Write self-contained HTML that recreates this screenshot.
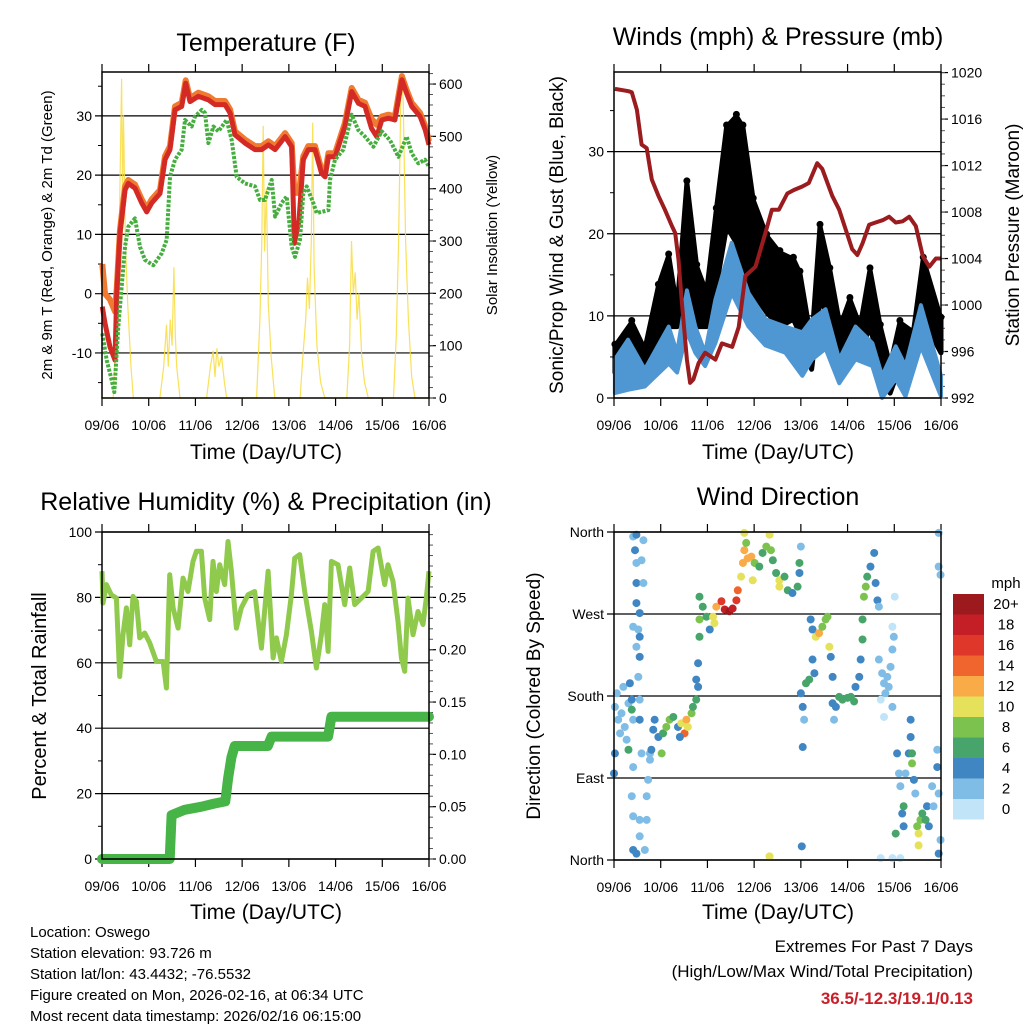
<!DOCTYPE html>
<html><head><meta charset="utf-8"><style>
html,body{margin:0;padding:0;background:#fff;}
svg{display:block;font-family:"Liberation Sans",sans-serif;}
</style></head><body>
<svg id="chart" width="1024" height="1024" viewBox="0 0 1024 1024" xmlns="http://www.w3.org/2000/svg">
<rect width="1024" height="1024" fill="#fff"/>
<text x="266" y="51" font-size="25" text-anchor="middle">Temperature (F)</text>
<text x="778" y="45" font-size="25" text-anchor="middle">Winds (mph) &amp; Pressure (mb)</text>
<text x="266" y="510" font-size="25" text-anchor="middle">Relative Humidity (%) &amp; Precipitation (in)</text>
<text x="778" y="505" font-size="25" text-anchor="middle">Wind Direction</text>
<text x="266" y="459" font-size="21" text-anchor="middle">Time (Day/UTC)</text>
<text x="778" y="459" font-size="21" text-anchor="middle">Time (Day/UTC)</text>
<text x="266" y="919" font-size="21" text-anchor="middle">Time (Day/UTC)</text>
<text x="778" y="919" font-size="21" text-anchor="middle">Time (Day/UTC)</text>
<text transform="translate(52,235) rotate(-90)" font-size="15" text-anchor="middle">2m &amp; 9m T (Red, Orange) &amp; 2m Td (Green)</text>
<text transform="translate(497,235) rotate(-90)" font-size="15" text-anchor="middle">Solar Insolation (Yellow)</text>
<text transform="translate(563,235) rotate(-90)" font-size="19" text-anchor="middle">Sonic/Prop Wind &amp; Gust (Blue, Black)</text>
<text transform="translate(1019,235) rotate(-90)" font-size="19" text-anchor="middle">Station Pressure (Maroon)</text>
<text transform="translate(46,696) rotate(-90)" font-size="20" text-anchor="middle">Percent &amp; Total Rainfall</text>
<text transform="translate(540,696) rotate(-90)" font-size="19" text-anchor="middle">Direction (Colored By Speed)</text>
<g font-size="15">
<text x="30" y="937">Location: Oswego</text>
<text x="30" y="958">Station elevation: 93.726 m</text>
<text x="30" y="979">Station lat/lon: 43.4432; -76.5532</text>
<text x="30" y="1000">Figure created on Mon, 2026-02-16, at 06:34 UTC</text>
<text x="30" y="1021">Most recent data timestamp: 2026/02/16 06:15:00</text>
</g>
<text x="973" y="952" font-size="17" text-anchor="end">Extremes For Past 7 Days</text>
<text x="973" y="977" font-size="17" text-anchor="end">(High/Low/Max Wind/Total Precipitation)</text>
<text x="973" y="1004" font-size="17" font-weight="bold" fill="#c8202a" text-anchor="end">36.5/-12.3/19.1/0.13</text>
<text x="1006" y="588" font-size="15" text-anchor="middle">mph</text>
</svg>
<script>
// ---------- data ----------
const dayLabels = ['09/06','10/06','11/06','12/06','13/06','14/06','15/06','16/06'];
const tempTicks = [-10,0,10,20,30];
const solarTicks = [0,100,200,300,400,500,600];
const windTicks = [0,10,20,30];
const presTicks = [992,996,1000,1004,1008,1012,1016,1020];
const rhTicks = [0,20,40,60,80,100];
const precipTicks = [0,0.05,0.10,0.15,0.20,0.25];
const dirTicks = [0,90,180,270,360];
const dirLabels = ['North','East','South','West','North'];

const redT = [0.007,0.064,0.171,0.278,0.314,0.385,0.492,0.563,0.706,0.849,0.956,1.063,1.241,1.349,1.456,1.563,1.706,1.791,1.884,2.063,2.277,2.42,2.634,2.741,2.848,3.062,3.276,3.419,3.562,3.705,3.919,4.06,4.118,4.218,4.31,4.417,4.56,4.70,4.776,4.846,4.99,5.20,5.345,5.49,5.63,5.77,5.88,5.99,6.13,6.27,6.42,6.52,6.63,6.81,6.92,7.0];
const redV = [-2.2,-5,-9,-11.2,0,10.2,17.5,18.6,17.8,15.3,13.8,15.3,16.9,22.6,24.3,31,31.6,35.5,32.4,33.3,32.7,31.9,31.9,30.5,26.8,25.4,24.3,24.3,25.1,24.3,26.5,24.8,8.5,12.4,22.6,24.3,24.3,20.3,19.7,23.1,23.1,28.2,34.1,32.1,31.6,27.9,26.5,29.3,29.6,29.3,36.1,33.8,31.6,29.9,27.6,25.1];
const orangeV = [5,0,-1,-3,0.8,10.8,18.1,19.2,18.4,15.9,14.4,15.9,17.5,23.2,24.9,31.6,32.2,36,33,33.9,33.3,32.5,32.5,31.1,27.4,26,24.9,24.9,25.7,24.9,27.1,25.4,17,17,23.2,24.9,24.9,20.9,20.3,23.7,23.7,28.8,34.7,32.7,32.2,29.5,28.5,29.9,30.2,29.9,36.7,34.4,32.2,30.5,28.2,25.7];
const dewT = [0.007,0.10,0.207,0.264,0.35,0.492,0.563,0.706,0.813,0.92,1.099,1.277,1.384,1.456,1.563,1.706,1.777,1.92,1.991,2.134,2.205,2.277,2.384,2.491,2.669,2.776,2.883,3.062,3.276,3.383,3.49,3.633,3.705,3.846,3.953,4.06,4.132,4.239,4.31,4.381,4.524,4.596,4.846,4.881,4.988,5.166,5.345,5.487,5.63,5.809,5.987,6.166,6.344,6.522,6.63,6.772,6.915,7.0];
const dewV = [-6.7,-11.2,-14.6,-16.6,-5.6,7.9,11.3,12.7,7.9,5.7,4.8,6.8,9.1,19.7,22.6,24.3,29.3,28.2,29.9,31,30.5,25.4,28.2,27.4,29.3,25.9,19.7,18.6,18.1,15.8,15.8,19.2,13,15.3,16.4,7.9,6.2,9.1,16.9,18.1,15.3,13.6,14.1,19.2,22.6,24.3,30.2,27.6,26.5,24.8,27.4,25.9,23.1,26.5,23.7,22,22.6,21.4];
const solarT = [0,0.24,0.30,0.36,0.40,0.42,0.44,0.46,0.50,0.55,0.62,0.67,1.24,1.32,1.38,1.42,1.46,1.50,1.54,1.57,1.60,1.67,2.24,2.32,2.38,2.42,2.46,2.50,2.56,2.62,2.67,3.31,3.38,3.42,3.45,3.48,3.52,3.56,3.62,3.70,4.24,4.30,4.36,4.40,4.44,4.48,4.51,4.54,4.60,4.68,4.77,5.24,5.30,5.34,5.38,5.42,5.46,5.50,5.56,5.62,5.70,6.24,6.30,6.35,6.40,6.42,6.45,6.50,6.56,6.63,6.70,7.0];
const solarV = [0,0,120,260,500,610,380,540,300,180,60,0,0,60,140,60,150,100,250,120,60,0,0,60,90,40,95,60,80,30,0,0,150,300,520,280,400,180,80,0,0,80,150,230,170,300,526,250,100,30,0,0,100,300,200,240,150,200,80,30,0,0,120,300,600,620,560,300,150,40,0,0];

const presT = [0.02,0.31,0.38,0.49,0.59,0.70,0.81,0.95,1.09,1.24,1.31,1.38,1.45,1.56,1.63,1.70,1.81,1.95,2.17,2.31,2.53,2.67,2.81,3.03,3.24,3.38,3.53,3.71,3.85,4.03,4.17,4.35,4.46,4.67,4.82,5.10,5.21,5.32,5.46,5.60,5.75,5.89,6.03,6.18,6.32,6.46,6.61,6.75,6.89,7.0];
const presV = [1018.6,1018.4,1018.3,1016.8,1013.8,1013.5,1010.8,1009.4,1008.2,1006.8,1006.2,1003.9,1000.4,995.3,993.3,993.6,995,995.9,995.3,996.7,996.4,998.1,1002.5,1003.3,1006.2,1008.2,1008.2,1009.6,1009.9,1010.2,1010.5,1012.2,1011.7,1009.4,1008.2,1004.8,1004.3,1005.3,1006.9,1007.1,1007.3,1007.6,1007.1,1007.2,1007.6,1006.8,1004.2,1003.3,1004.0,1004.0];
const gustT = [0.02,0.38,0.66,0.95,1.17,1.35,1.56,1.77,1.98,2.19,2.41,2.62,2.76,2.98,3.27,3.55,3.84,3.98,4.23,4.41,4.62,4.84,5.05,5.27,5.48,5.70,5.91,6.12,6.41,6.62,7.0];
const gustHi = [6.3,9.2,5.9,13.6,17.3,10.8,26.2,16,12.8,22.9,33,34.3,33,24.1,19.7,17.7,16.9,15.2,6.7,20.9,15.6,8.7,12,8.7,15.6,8.7,3.9,9.2,8,16.9,9.6];
const gustLo = [3.1,4.7,3.9,6.7,8.7,8.7,12.8,8.7,8.7,13.6,20.9,18.9,14.8,12.8,10.4,8.7,9.6,7.8,3.5,12,9.6,4.7,6,5.5,8.7,3.9,0.6,3.9,3.9,9.6,5.5];
const sustT = [0.02,0.30,0.66,1.17,1.35,1.56,1.74,1.95,2.17,2.52,2.88,3.24,3.67,4.03,4.24,4.53,4.82,5.17,5.53,5.74,6.03,6.24,6.57,7.0];
const sustHi = [4.7,7.1,3.5,8.7,5.5,13.1,8.7,5.5,12,18.9,12.8,9.6,8.7,8,9.6,10.8,4.7,8.7,6.7,2.7,6.3,3.9,11.3,2.7];
const sustLo = [0.6,1,1.4,4.2,3.1,8,5.5,3.9,6.7,12.8,8.7,6.4,5.5,2.7,4.7,6,1.8,4.7,3.9,0,2.3,0.2,6.3,0.2];

const rhT = [0,0.022,0.094,0.2,0.308,0.379,0.45,0.522,0.593,0.664,0.736,0.807,0.914,1.021,1.164,1.307,1.378,1.45,1.521,1.628,1.735,1.842,1.949,2.02,2.127,2.198,2.306,2.377,2.448,2.52,2.627,2.698,2.77,2.877,2.983,3.126,3.269,3.412,3.555,3.662,3.733,3.84,3.947,4.054,4.125,4.232,4.34,4.482,4.589,4.696,4.768,4.839,4.91,5.053,5.196,5.303,5.41,5.553,5.696,5.803,5.91,6.052,6.123,6.23,6.337,6.409,6.48,6.551,6.658,6.765,6.872,6.943,7.0];
const rhV = [88,78.3,83.9,80.8,79.8,55.8,68.6,76.8,65.5,80.3,78.8,67.6,69.1,66.1,60.4,60.4,52.3,86.9,76.8,70.6,85.9,81.8,91,94.1,94.1,79.8,73.2,91,81.8,90,83.9,97.1,88,70.6,76.8,80.8,81.8,64.5,88,61.5,67.6,60.4,68.6,80.8,92,93.1,81.8,69.6,58.4,68.6,77.8,63.5,91,90,77.8,89,77.8,79.8,81.8,94.1,95.1,83.9,90,84.9,72.7,61.5,57.4,79.8,68.6,75.7,71.7,79.8,88];
const precipT = [0,1.45,1.49,1.77,2.13,2.41,2.64,2.70,2.77,2.84,3.55,3.63,4.84,4.91,7.0];
const precipV = [0,0,0.042,0.047,0.05,0.053,0.055,0.077,0.097,0.108,0.108,0.117,0.117,0.136,0.136];

const dirT = [0.02,0.06,0.09,0.13,0.16,0.2,0.23,0.27,0.31,0.02,0,0.34,0.38,0.41,0.31,0.38,
0.41,0.48,0.45,0.63,0.48,0.59,0.48,0.63,0.48,0.55,0.41,0.52,0.55,0.48,0.55,0.52,0.55,0.55,0.41,0.59,0.38,0.41,0.41,0.48,0.55,0.7,0.7,0.66,0.73,0.77,0.55,
0.84,0.87,0.95,1.02,1.05,1.12,1.19,1.27,1.37,1.44,1.51,1.55,1.58,1.66,1.69,1.76,1.8,1.8,1.76,0.8,0.77,1.41,
1.83,1.83,1.9,1.98,2.05,2.12,2.19,2.3,2.37,2.47,2.54,2.62,2.65,1.83,2.15,
2.72,2.76,2.79,2.83,2.86,2.94,3.01,3.11,3.18,3.26,3.33,3.36,3.4,3.47,3.54,3.54,3.65,3.72,3.82,3.93,3.97,4.0,3.97,2.79,2.97,
4.0,4.04,4.07,4.04,4.11,4.18,4.21,4.25,4.32,4.39,4.46,4.53,4.57,4.61,4.64,4.68,4.68,4.71,4.25,4.29,4.02,
4.75,4.82,4.89,5.0,5.07,5.14,5.17,5.25,5.28,5.32,5.32,5.35,5.39,5.42,5.49,5.57,5.6,5.64,5.67,
5.67,5.74,5.78,5.81,5.85,5.88,5.92,5.96,5.99,5.71,5.78,5.96,6.01,5.96,
6.06,6.1,6.13,6.17,6.2,6.24,6.31,6.35,6.35,6.38,6.38,6.42,6.45,6.49,6.52,6.52,6.56,6.6,6.67,6.7,6.74,6.81,6.84,6.92,6.95,6.92,6.99,6.95,6.03,6.2,6.95,6.95,6.99,5.96,6.13,5.71,3.33];
const dirDeg = [168,183,154,139,161,190,146,132,172,117,95,194,176,154,121,165,
355,357,340,351,326,329,304,304,282,271,256,253,245,234,223,201,176,154,102,117,70,48,11,7,26,70,44,11,88,117,44,
143,154,135,117,139,146,154,157,146,150,139,154,146,161,168,176,190,216,198,121,110,135,
289,264,278,267,253,267,278,284,275,273,276,285,296,245,260,
311,326,340,348,331,333,326,322,337,344,357,340,329,315,307,300,311,296,293,300,326,344,315,359,307,
183,168,154,124,194,198,264,253,245,249,256,264,267,234,223,201,172,154,220,205,15,
168,179,176,178,179,174,190,201,220,242,264,289,300,311,322,337,304,285,278,
220,205,194,183,201,190,212,231,245,176,157,168,289,256,
117,95,81,51,37,95,117,154,135,117,106,88,73,37,29,16,44,51,44,59,37,81,59,102,73,121,22,7,29,59,359,322,313,2,2,2,4];
const dirSpd = [2,2,2,2,2,2,2,2,2,4,4,4,4,2,6,6,
2,4,4,2,2,2,4,2,4,4,2,2,4,2,4,2,2,4,2,2,2,2,4,4,2,2,2,2,2,2,2,
4,4,4,8,6,8,8,6,4,10,14,12,10,8,6,6,4,4,4,4,2,4,
6,8,6,6,4,10,12,16,18,20,18,16,14,6,10,
10,12,12,8,12,12,8,6,6,8,10,8,6,6,10,10,6,6,4,6,6,2,4,10,10,
4,4,2,4,6,6,4,4,10,12,8,8,8,10,4,4,4,2,4,4,4,
4,6,6,6,6,6,4,4,4,6,6,8,8,6,4,4,4,4,2,
2,2,2,2,2,2,2,2,2,0,0,2,0,0,
4,2,2,4,4,2,4,4,4,6,8,4,2,8,10,10,8,6,6,4,4,2,2,4,2,2,2,4,6,6,2,2,2,0,0,0,10];
const binLabels = ['20+','18','16','14','12','10','8','6','4','2','0'];
const binColors = ['#9c1a1e','#c41f26','#e0372b','#f0652d','#f8ab46','#e6e15a','#7cc24f','#47a56b','#3f86c3','#80bde6','#c2e4f8'];

// ---------- helpers ----------
const NS = 'http://www.w3.org/2000/svg';
const svg = document.getElementById('chart');
function mk(tag, attrs, parent){
  const e = document.createElementNS(NS, tag);
  for (const k in attrs) e.setAttribute(k, attrs[k]);
  (parent||svg).appendChild(e);
  return e;
}
function scale(d0,d1,r0,r1){ return v => r0 + (v-d0)/(d1-d0)*(r1-r0); }
function pathD(xs, ys, fx, fy){
  return xs.map((t,i)=>(i?'L':'M')+fx(t).toFixed(1)+','+fy(ys[i]).toFixed(1)).join('');
}

const panels = [
  {name:'temp', x0:102,x1:429,y0:72,y1:398},
  {name:'wind', x0:614,x1:941,y0:72,y1:398},
  {name:'rh',   x0:102,x1:429,y0:532,y1:859},
  {name:'dir',  x0:614,x1:941,y0:532,y1:860}
];

function drawAxes(p, leftTicks, leftLabels, leftMin, leftMax, rightTicks, rightLabels, rMin, rMax, leftMinor, rightMinor){
  const g = mk('g', {});
  
  
  const fx = scale(0,7,p.x0,p.x1);
  const fy = scale(leftMin,leftMax,p.y1,p.y0);
  leftTicks.forEach((v,i)=>{
    const y = fy(v);
    const gl = mk('line',{x1:p.x0-7,x2:p.x1,y1:y,y2:y,stroke:'#000','stroke-width':1.2},g);
    
    
    const tl = mk('text',{x:p.x0-10,y:y+5,'font-size':14,'text-anchor':'end'},g);
    tl.textContent = leftLabels[i];
    
    
  });
  leftMinor.forEach(v=>{
    const y = fy(v);
    mk('line',{x1:p.x0-4,x2:p.x0,y1:y,y2:y,stroke:'#000','stroke-width':1},g);
  });
  if (rightTicks){
    const fr = scale(rMin,rMax,p.y1,p.y0);
    rightTicks.forEach((v,i)=>{
      const y = fr(v);
      mk('line',{x1:p.x1,x2:p.x1+7,y1:y,y2:y,stroke:'#000','stroke-width':1.2},g);
      const tl = mk('text',{x:p.x1+10,y:y+5,'font-size':14,'text-anchor':'start'},g);
      tl.textContent = rightLabels[i];
      
      
    });
    rightMinor.forEach(v=>{
      const y = fr(v);
      mk('line',{x1:p.x1,x2:p.x1+4,y1:y,y2:y,stroke:'#555','stroke-width':1},g);
    });
  }
  dayLabels.forEach((lab,i)=>{
    const x = fx(i);
    mk('line',{x1:x,x2:x,y1:p.y0-8,y2:p.y0,stroke:'#000','stroke-width':1.2},g);
    mk('line',{x1:x,x2:x,y1:p.y1,y2:p.y1+8,stroke:'#000','stroke-width':1.2},g);
    const tl = mk('text',{x:x,y:p.y1+32,'font-size':14,'text-anchor':'middle'},g);
    tl.textContent = lab;
    
    
  });
  return {fx, fy};
}
function frame(p){
  const r = mk('rect',{x:p.x0,y:p.y0,width:p.x1-p.x0,height:p.y1-p.y0,fill:'none',stroke:'#000','stroke-width':1.5});
  
  
}
function range(a,b,s){ const o=[]; for(let v=a; v<=b+1e-9; v+=s) o.push(+v.toFixed(4)); return o; }

// ---------- panel 1: temperature ----------
{
  const p = panels[0];
  const ax = drawAxes(p, tempTicks, tempTicks.map(String), -17.6, 37.4,
    solarTicks, solarTicks.map(String), 0, 623,
    [-15,-5,5,15,25,35], range(0,620,20));
  const fs = scale(0,623,p.y1,p.y0);
  const sol = mk('path',{d:pathD(solarT,solarV,ax.fx,fs),fill:'none',stroke:'#f8dc3c','stroke-width':1.2,'stroke-opacity':0.85});
  
  
  const or = mk('path',{d:pathD(redT,orangeV,ax.fx,ax.fy),fill:'none',stroke:'#f07a30','stroke-width':6,'stroke-linejoin':'round'});
  
  
  const rd = mk('path',{d:pathD(redT,redV,ax.fx,ax.fy),fill:'none',stroke:'#d42a25','stroke-width':5,'stroke-linejoin':'round'});
  
  
  const dw = mk('path',{d:pathD(dewT,dewV,ax.fx,ax.fy),fill:'none',stroke:'#45ae3e','stroke-width':4,'stroke-dasharray':'3 1.5','stroke-linejoin':'round'});
  
  
  frame(p);
}
// ---------- panel 2: winds & pressure ----------
{
  const p = panels[1];
  const ax = drawAxes(p, windTicks, windTicks.map(String), 0, 39.7,
    presTicks, presTicks.map(String), 992, 1020.05,
    [5,15,25,35], range(992,1020,1));
  const band = (T,hi,lo) => pathD(T.concat(T.slice().reverse()), hi.concat(lo.slice().reverse()), ax.fx, ax.fy)+'Z';
  const gb = mk('path',{d:band(gustT,gustHi,gustLo),fill:'#000',stroke:'#000','stroke-width':5,'stroke-linejoin':'round'});
  
  
  gustT.forEach((t,i)=>{
    const d = mk('circle',{cx:ax.fx(t),cy:ax.fy(gustHi[i])-2,r:3.5,fill:'#000'});
    
    
  });
  const sb = mk('path',{d:band(sustT,sustHi,sustLo),fill:'#4f97d2',stroke:'#4f97d2','stroke-width':4,'stroke-linejoin':'round'});
  
  
  const fp = scale(992,1020.05,p.y1,p.y0);
  const pl = mk('path',{d:pathD(presT,presV,ax.fx,fp),fill:'none',stroke:'#9b1c1f','stroke-width':4,'stroke-linejoin':'round'});
  
  
  frame(p);
}
// ---------- panel 3: RH & precip ----------
{
  const p = panels[2];
  const ax = drawAxes(p, rhTicks, rhTicks.map(String), 0, 100,
    precipTicks, precipTicks.map(v=>v.toFixed(2)), 0, 0.3125,
    [10,30,50,70,90], range(0,0.31,0.01));
  const fp = scale(0,0.3125,p.y1,p.y0);
  const rl = mk('path',{d:pathD(rhT,rhV,ax.fx,ax.fy),fill:'none',stroke:'#8fca4c','stroke-width':5,'stroke-linejoin':'round'});
  
  
  const pr = mk('path',{d:pathD(precipT,precipV,ax.fx,fp),fill:'none',stroke:'#46b447','stroke-width':10,'stroke-linejoin':'round','stroke-linecap':'round'});
  
  
  frame(p);
}
// ---------- panel 4: wind direction ----------
{
  const p = panels[3];
  const ax = drawAxes(p, dirTicks, dirLabels, 0, 360, null, null, 0, 0, [], []);
  function colorFor(s){ const b = Math.min(10, Math.floor(s/2)); return binColors[10-b]; }
  dirT.forEach((t,i)=>{
    const c = mk('circle',{cx:ax.fx(t),cy:ax.fy(dirDeg[i]),r:4,fill:colorFor(dirSpd[i])});
    
    
  });
  frame(p);
  const cg = mk('g',{});
  
  
  binLabels.forEach((lab,i)=>{
    const y = 594 + i*20.5;
    const r = mk('rect',{x:953,y:y,width:31,height:20.5,fill:binColors[i]},cg);
    
    
    const t = mk('text',{x:1006,y:y+15,'font-size':15,'text-anchor':'middle'},cg);
    t.textContent = lab;
    
    
  });
}
</script>
</body></html>
